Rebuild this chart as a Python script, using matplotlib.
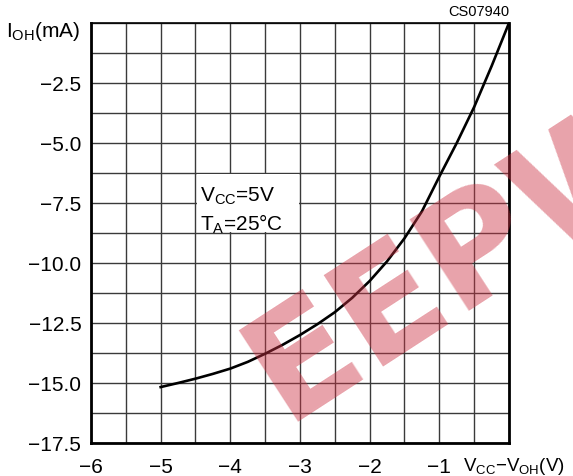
import numpy as np
import matplotlib
matplotlib.use("Agg")
import matplotlib.pyplot as plt
from matplotlib.patches import Rectangle

plt.rcParams['font.family'] = ['Liberation Sans', 'DejaVu Sans']
plt.rcParams['mathtext.fontset'] = 'custom'
plt.rcParams['mathtext.rm'] = 'Liberation Sans'
plt.rcParams['mathtext.default'] = 'regular'

# curve
vdrop = [-5.0, -4.75, -4.5, -4.25, -4.0, -3.75, -3.5, -3.25, -3.0, -2.75, -2.5,
         -2.25, -2.0, -1.75, -1.5, -1.25, -1.0, -0.75, -0.5, -0.25, 0.0]
ioh = [-15.17, -15.0, -14.82, -14.62, -14.4, -14.12, -13.78, -13.41, -13.0,
       -12.55, -12.05, -11.45, -10.75, -9.93, -8.97, -7.85, -6.4, -5.0, -3.5,
       -1.8, 0.0]

xticks = [-6, -5, -4, -3, -2, -1]
yticks = [-17.5, -15.0, -12.5, -10.0, -7.5, -5.0, -2.5]

fig = plt.figure(figsize=(5.73, 4.77), dpi=100)
ax = fig.add_axes([0.1588, 0.0692, 0.7295, 0.8805])

ax.plot(vdrop, ioh, color='black', lw=1.9, zorder=4)

ax.set_xlim(-6, 0)
ax.set_ylim(-17.5, 0)
ax.set_xticks(xticks)
ax.set_xticklabels(['\u2212%d' % abs(v) for v in xticks])
ax.set_yticks(yticks)
ax.set_yticklabels(['\u2212%.1f' % abs(v) for v in yticks])
ax.set_xticks(np.arange(-6, 0.01, 0.5), minor=True)
ax.set_yticks(np.arange(-17.5, 0.01, 1.25), minor=True)
ax.grid(which='both', color='#3a3a3a', lw=1.0, zorder=1)
ax.tick_params(which='both', length=0, labelsize=15)
ax.tick_params(axis='x', pad=10)
ax.tick_params(axis='y', pad=7)
ax.set_axisbelow(True)

for side in ['left', 'bottom', 'right']:
    ax.spines[side].set_linewidth(2.0)
ax.spines['top'].set_linewidth(1.2)

# condition box
ax.add_patch(Rectangle((-4.48, -8.72), 1.46, 2.44, facecolor='white',
                       edgecolor='none', zorder=2))
ax.text(-4.43, -7.2, r'V$_{CC}$=5V', fontsize=15, va='center', ha='left', zorder=3)
ax.text(-4.43, -8.35, r'T$_{A}$=25°C', fontsize=15, va='center', ha='left', zorder=3)

# labels
ax.text(-0.025, 0.982, r'I$_{OH}$(mA)', transform=ax.transAxes, fontsize=15,
        ha='right', va='center')
ax.text(1.0, 1.012, 'CS07940', transform=ax.transAxes, fontsize=10.5,
        ha='right', va='bottom')
ax.text(-0.665, -0.0275, r'V$_{CC}$' + '\u2212' + r'V$_{OH}$(V)',
        transform=ax.get_xaxis_transform(), fontsize=13.5, ha='left', va='top')

# watermark
fig.text(0.525, 0.06, 'EEPW', fontsize=108, fontweight='bold', family='DejaVu Sans',
         color='#cc3344', alpha=0.45, rotation=33, rotation_mode='anchor',
         ha='left', va='bottom', zorder=10)

fig.savefig('out.png', dpi=100)
